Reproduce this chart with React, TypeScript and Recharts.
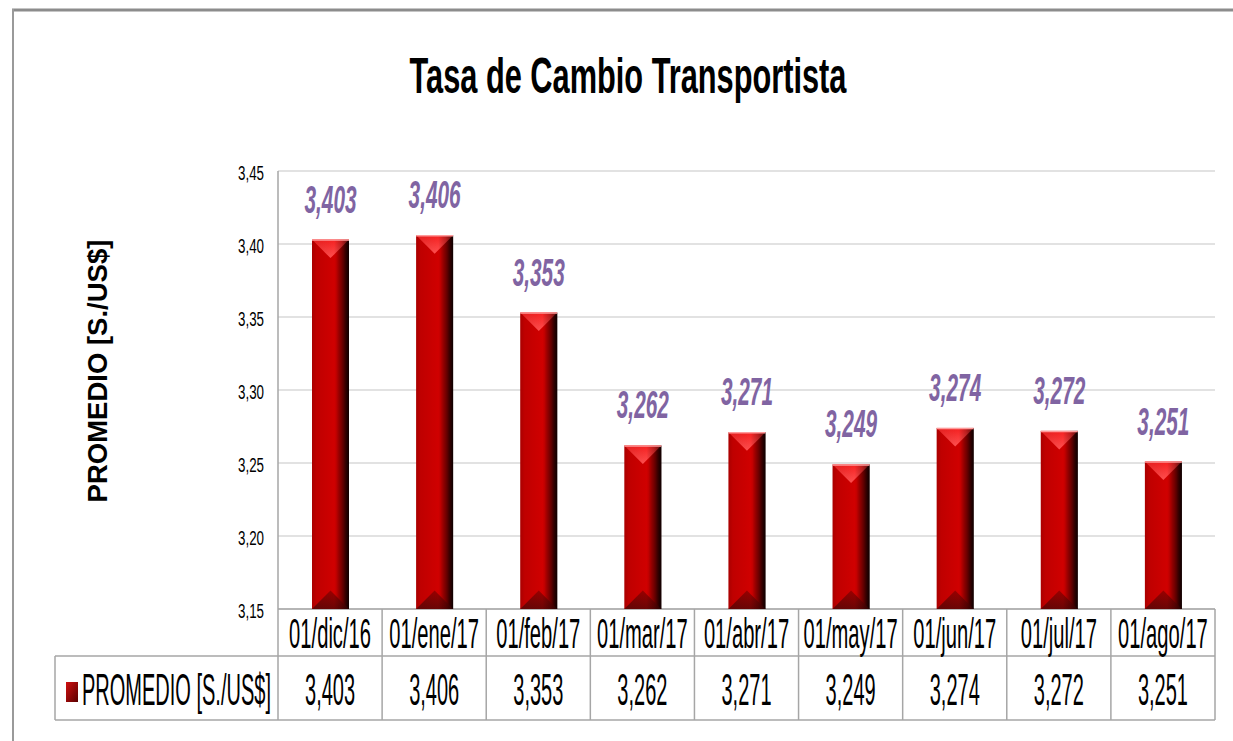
import React from 'react';
import { BarChart, Bar, XAxis, YAxis, CartesianGrid, LabelList, Customized } from 'recharts';

// ---- data ----
const categories = ['01/dic/16', '01/ene/17', '01/feb/17', '01/mar/17', '01/abr/17', '01/may/17', '01/jun/17', '01/jul/17', '01/ago/17'];
const promedio = [3.403, 3.406, 3.353, 3.262, 3.271, 3.249, 3.274, 3.272, 3.251];
const yTicks = [3.15, 3.2, 3.25, 3.3, 3.35, 3.4, 3.45];
const chartTitle = 'Tasa de Cambio Transportista';
const seriesName = 'PROMEDIO [S./US$]';

const data = categories.map((c, i) => ({ label: c, value: promedio[i] }));

// ---- layout ----
const W = 1233;
const H = 741;
const Y_AXIS_W = 60;
const PLOT_LEFT = 278;
const PLOT_RIGHT = 1215;
const PLOT_TOP = 171;
const HEADER_H = 47;
const VALUE_H = 64;
const TABLE_H = HEADER_H + VALUE_H;
const PLOT_BOTTOM = H - 21 - TABLE_H;
const BAND = (PLOT_RIGHT - PLOT_LEFT) / categories.length;
const TABLE_LEFT = 55;
const LINE = '#a6a6a6';
const FONT = "'Liberation Sans', Arial, Helvetica, sans-serif";

const fmt3 = (v: number) => v.toFixed(3).replace('.', ',');
const fmt2 = (v: number) => v.toFixed(2).replace('.', ',');

function SText(props: any) {
  const { x, y, sx = 0.82, sy = 1, fontSize, fill = '#000', weight = 'normal', italic = false, anchor = 'middle', children } = props;
  return (
    <g transform={`translate(${x},${y}) scale(${sx},${sy})`}>
      <text x={0} y={0} textAnchor={anchor} fontFamily={FONT} fontSize={fontSize} fontWeight={weight}
        fontStyle={italic ? 'italic' : 'normal'} fill={fill}>{children}</text>
    </g>
  );
}

function YTick(props: any) {
  const { y, payload } = props;
  return <SText x={PLOT_LEFT - 14} y={y + 9} fontSize={16.3} sy={1.2} anchor="end" fill="#000">{fmt2(payload.value)}</SText>;
}

function TableTick(props: any) {
  const { x, index } = props;
  const i = index ?? 0;
  return (
    <g>
      <SText x={x} y={PLOT_BOTTOM + 39} fontSize={24.6} sy={1.7}>{categories[i]}</SText>
      <SText x={x} y={PLOT_BOTTOM + HEADER_H + 49} fontSize={24.4} sy={1.85}>{fmt3(promedio[i])}</SText>
      <line x1={x + BAND / 2} x2={x + BAND / 2} y1={PLOT_BOTTOM} y2={PLOT_BOTTOM + TABLE_H} stroke={LINE} strokeWidth={1.5} />
    </g>
  );
}

function Bar3D(props: any) {
  const { x, y, width, height } = props;
  if (height <= 0) return null;
  const d = Math.min(width * 0.5, height / 2);
  return (
    <g>
      <rect x={x} y={y} width={width} height={height} fill="url(#barBody)" />
      <polygon points={`${x},${y} ${x + width},${y} ${x + width / 2},${y + d}`} fill="url(#barTop)" />
      <polygon points={`${x},${y + height} ${x + width},${y + height} ${x + width / 2},${y + height - d}`} fill="url(#barBottom)" />
      <rect x={x} y={y} width={width} height={height} fill="url(#barShade)" />
      <line x1={x} x2={x + width} y1={y + 0.5} y2={y + 0.5} stroke="#ff9a9a" strokeWidth={1.5} />
    </g>
  );
}

function DataLabel(props: any) {
  const { x, y, width, value } = props;
  return <SText x={x + width / 2} y={y - 27} fontSize={25.4} sy={1.55} weight="bold" italic fill="#8064A2">{fmt3(value)}</SText>;
}

function Decor() {
  return (
    <g>
      <defs>
        <linearGradient id="barBody" x1="0" y1="0" x2="1" y2="0">
          <stop offset="0" stopColor="#b80000" />
          <stop offset="0.12" stopColor="#cc0000" />
          <stop offset="0.65" stopColor="#d00000" />
          <stop offset="0.85" stopColor="#8a0000" />
          <stop offset="1" stopColor="#2a0000" />
        </linearGradient>
        <linearGradient id="barShade" x1="0" y1="0" x2="1" y2="0">
          <stop offset="0" stopColor="#000" stopOpacity="0.08" />
          <stop offset="0.6" stopColor="#000" stopOpacity="0" />
          <stop offset="0.8" stopColor="#000" stopOpacity="0.25" />
          <stop offset="1" stopColor="#000" stopOpacity="0.65" />
        </linearGradient>
        <linearGradient id="barTop" x1="0" y1="0" x2="0" y2="1">
          <stop offset="0" stopColor="#f52020" />
          <stop offset="1" stopColor="#ff5050" />
        </linearGradient>
        <linearGradient id="barBottom" x1="0" y1="0" x2="0" y2="1">
          <stop offset="0" stopColor="#9a0000" />
          <stop offset="1" stopColor="#6a0505" />
        </linearGradient>
        <linearGradient id="legendSwatch" x1="0" y1="0" x2="1" y2="1">
          <stop offset="0" stopColor="#d01010" />
          <stop offset="1" stopColor="#5a0000" />
        </linearGradient>
      </defs>
      {/* outer frame */}
      <line x1={12} x2={W} y1={10} y2={10} stroke="#8c8c8c" strokeWidth={3} />
      <line x1={13} x2={13} y1={9} y2={H} stroke="#9a9a9a" strokeWidth={2} />
      {/* title */}
      <SText x={628} y={93} fontSize={37.5} sy={1.35} weight="bold">{chartTitle}</SText>
      {/* y axis title */}
      <text transform={`translate(107,371) rotate(-90)`} textAnchor="middle" fontFamily={FONT} fontSize={27.5} fontWeight="bold" fill="#000">{seriesName}</text>
      {/* table lines */}
      <line x1={PLOT_LEFT} x2={PLOT_LEFT} y1={PLOT_TOP} y2={PLOT_BOTTOM + TABLE_H} stroke={LINE} strokeWidth={1.5} />
      <line x1={PLOT_LEFT} x2={PLOT_RIGHT} y1={PLOT_BOTTOM} y2={PLOT_BOTTOM} stroke={LINE} strokeWidth={1.5} />
      <line x1={TABLE_LEFT} x2={PLOT_RIGHT} y1={PLOT_BOTTOM + HEADER_H} y2={PLOT_BOTTOM + HEADER_H} stroke={LINE} strokeWidth={1.5} />
      <line x1={TABLE_LEFT} x2={PLOT_RIGHT} y1={PLOT_BOTTOM + TABLE_H} y2={PLOT_BOTTOM + TABLE_H} stroke={LINE} strokeWidth={1.5} />
      <line x1={TABLE_LEFT} x2={TABLE_LEFT} y1={PLOT_BOTTOM + HEADER_H} y2={PLOT_BOTTOM + TABLE_H} stroke={LINE} strokeWidth={1.5} />
      {/* legend key */}
      <rect x={66} y={PLOT_BOTTOM + HEADER_H + 26} width={12} height={20} fill="url(#legendSwatch)" />
      <SText x={82} y={PLOT_BOTTOM + HEADER_H + 49} fontSize={24.4} sy={1.85} anchor="start">{seriesName}</SText>
    </g>
  );
}

export default function App() {
  return (
    <div style={{ position: 'absolute', left: 0, top: 0, width: W, height: H, background: '#fff' }}>
      <BarChart width={W} height={H} data={data}
        margin={{ top: PLOT_TOP, right: W - PLOT_RIGHT, left: PLOT_LEFT - Y_AXIS_W, bottom: 21 }}
        barCategoryGap="32%">
        <CartesianGrid vertical={false} stroke="#d9d9d9" strokeWidth={1.5} />
        <XAxis dataKey="label" height={TABLE_H} axisLine={false} tickLine={false} interval={0} tick={<TableTick />} />
        <YAxis width={Y_AXIS_W} domain={[3.15, 3.45]} ticks={yTicks} axisLine={false} tickLine={false} tick={<YTick />} allowDataOverflow />
        <Bar dataKey="value" barSize={37} shape={<Bar3D />} isAnimationActive={false}>
          <LabelList dataKey="value" content={<DataLabel />} />
        </Bar>
        <Customized component={<Decor />} />
      </BarChart>
    </div>
  );
}
